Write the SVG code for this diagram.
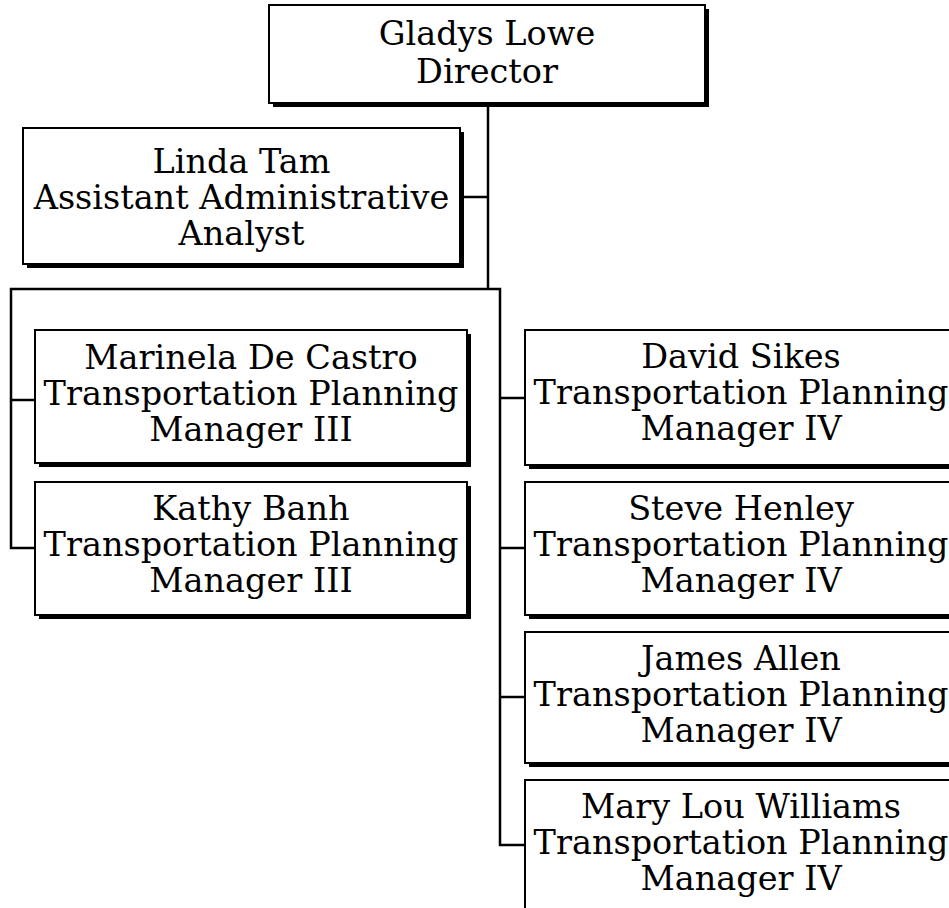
<svg xmlns="http://www.w3.org/2000/svg" width="949" height="908" viewBox="0 0 949 908">
<style>
  .bg { fill: #ffffff; }
  .shadow { fill: #000000; }
  .box { fill: #ffffff; stroke: #000000; stroke-width: 2; }
  .t { font-family: "DejaVu Serif", "Liberation Serif", serif; font-size: 33.5px; text-anchor: middle; fill: #000000; }
  .conn { fill: none; stroke: #000000; stroke-width: 2.5; stroke-linejoin: miter; stroke-linecap: butt; }
</style>
<rect class="bg" x="0" y="0" width="949" height="908"/>
<g id="connectors">
  <path class="conn" d="M488,107 V289"/>
  <path class="conn" d="M463,197 H488"/>
  <path class="conn" d="M35,548 H11 V289 H500 V845 H525"/>
  <path class="conn" d="M11,400 H35"/>
  <path class="conn" d="M500,398 H525"/>
  <path class="conn" d="M500,548 H525"/>
  <path class="conn" d="M500,697 H525"/>
</g>
<g id="gladys">
  <rect class="shadow" x="273" y="9" width="436" height="98"/>
  <rect class="box" x="269" y="5" width="436" height="98"/>
  <text class="t" x="487" y="45">Gladys Lowe</text>
  <text class="t" x="487" y="83">Director</text>
</g>
<g id="linda">
  <rect class="shadow" x="27" y="132" width="437" height="136"/>
  <rect class="box" x="23" y="128" width="437" height="136"/>
  <text class="t" x="241.5" y="173">Linda Tam</text>
  <text class="t" x="241.5" y="209">Assistant Administrative</text>
  <text class="t" x="241.5" y="245">Analyst</text>
</g>
<g id="marinela">
  <rect class="shadow" x="39" y="334" width="432" height="133"/>
  <rect class="box" x="35" y="330" width="432" height="133"/>
  <text class="t" x="251" y="369">Marinela De Castro</text>
  <text class="t" x="251" y="405">Transportation Planning</text>
  <text class="t" x="251" y="441">Manager III</text>
</g>
<g id="kathy">
  <rect class="shadow" x="39" y="486" width="432" height="133"/>
  <rect class="box" x="35" y="482" width="432" height="133"/>
  <text class="t" x="251" y="520">Kathy Banh</text>
  <text class="t" x="251" y="556">Transportation Planning</text>
  <text class="t" x="251" y="592">Manager III</text>
</g>
<g id="david">
  <rect class="shadow" x="529" y="334" width="432" height="135"/>
  <rect class="box" x="525" y="330" width="432" height="135"/>
  <text class="t" x="741" y="368">David Sikes</text>
  <text class="t" x="741" y="404">Transportation Planning</text>
  <text class="t" x="741" y="440">Manager IV</text>
</g>
<g id="steve">
  <rect class="shadow" x="529" y="486" width="432" height="133"/>
  <rect class="box" x="525" y="482" width="432" height="133"/>
  <text class="t" x="741" y="520">Steve Henley</text>
  <text class="t" x="741" y="556">Transportation Planning</text>
  <text class="t" x="741" y="592">Manager IV</text>
</g>
<g id="james">
  <rect class="shadow" x="529" y="636" width="432" height="131"/>
  <rect class="box" x="525" y="632" width="432" height="131"/>
  <text class="t" x="741" y="670">James Allen</text>
  <text class="t" x="741" y="706">Transportation Planning</text>
  <text class="t" x="741" y="742">Manager IV</text>
</g>
<g id="marylou">
  <rect class="shadow" x="529" y="784" width="432" height="135"/>
  <rect class="box" x="525" y="780" width="432" height="135"/>
  <text class="t" x="741" y="818">Mary Lou Williams</text>
  <text class="t" x="741" y="854">Transportation Planning</text>
  <text class="t" x="741" y="890">Manager IV</text>
</g>
</svg>
